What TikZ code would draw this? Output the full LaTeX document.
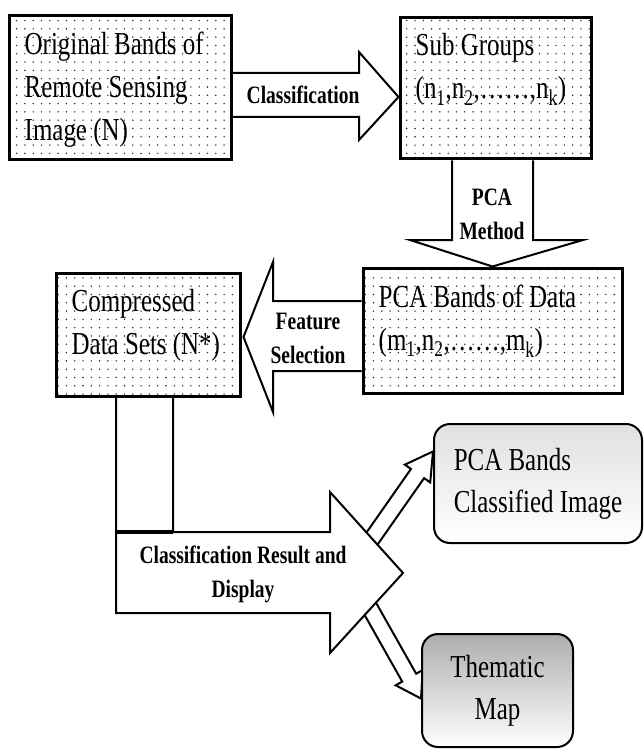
\documentclass[tikz,border=0pt]{standalone}
\usepackage{fontspec}
\setmainfont{Liberation Serif}[FakeStretch=0.78]
\usetikzlibrary{calc,patterns.meta,backgrounds}

\tikzset{
  bandbox/.style={draw, line width=3pt, pattern={Dots[distance=8.3pt,radius=0.8pt]}, pattern color=black!85, inner sep=0pt},
  boxtext/.style={anchor=north west, inner sep=0pt, align=left, font=\fontsize{32}{43}\selectfont},
  blockarrow/.style={draw, line width=2pt, fill=white, line join=miter},
  arrowtext/.style={align=center, inner sep=0pt, font=\fontsize{25}{34}\selectfont\bfseries},
  resultbox/.style={draw, line width=2pt, rounded corners=16pt, font=\fontsize{32}{42}\selectfont}
}

\begin{document}
\begin{tikzpicture}[x=1pt,y=-1pt]
        \useasboundingbox (0,0) rectangle (643,751);
        % dotted boxes
        \node[bandbox, minimum width=222pt, minimum height=144pt] (orig) at (120,88) {};
        \node[bandbox, minimum width=191pt, minimum height=141pt] (sub) at (495.5,88.5) {};
        \node[bandbox, minimum width=259pt, minimum height=125pt] (pcadata) at (492.5,330.5) {};
        \node[bandbox, minimum width=184pt, minimum height=123pt] (comp) at (148,334.5) {};
        \node[boxtext] (orig-txt) at ($(orig.north west)+(17,17)$) {Original Bands of\\Remote Sensing\\Image (N)};
        \node[boxtext] (sub-txt) at ($(sub.north west)+(17,17)$) {Sub Groups\\(n\textsubscript{1},n\textsubscript{2},……,n\textsubscript{k})};
        \node[boxtext] (pcadata-txt) at ($(pcadata.north west)+(17,18)$) {PCA Bands of Data\\(m\textsubscript{1},n\textsubscript{2},……,m\textsubscript{k})};
        \node[boxtext] (comp-txt) at ($(comp.north west)+(17,18)$) {Compressed\\Data Sets (N*)};
        % result boxes
        \node[resultbox, top color=black!12, bottom color=white, minimum width=208pt, minimum height=119pt, align=left] (pcaimg) at (538,483.5) {PCA Bands\\Classified Image};
        \node[resultbox, top color=black!32, bottom color=white, minimum width=151pt, minimum height=113pt, align=center] (thematic) at (497.5,690.5) {Thematic\\Map};
        % small arrows
        \coordinate (t1) at ($(pcaimg.north west)!0.235!(pcaimg.south west)$);
        \coordinate (s1) at (364,550);
        \coordinate (b1) at ($(t1)!27pt!(s1)$);
        \coordinate (t2) at ($(thematic.north west)!0.57!(thematic.south west)$);
        \coordinate (s2) at (367,603);
        \coordinate (b2) at ($(t2)!24pt!(s2)$);
        \begin{scope}[on background layer]
        \foreach \s/\t/\b in {s1/t1/b1, s2/t2/b2}
          \draw[blockarrow] ($(\s)!8pt!90:(\t)$) -- ($(\b)!8pt!90:(\t)$) -- ($(\b)!15.5pt!90:(\t)$) -- (\t)
            -- ($(\b)!15.5pt!-90:(\t)$) -- ($(\b)!8pt!-90:(\t)$) -- ($(\s)!8pt!-90:(\t)$) -- cycle;
        % block arrows
        \draw[blockarrow] ($(orig.east)+(0,-15)$) -- (359,73) -- (359,52) -- ($(sub.west)+(0,8.5)$)
          -- (359,140) -- (359,117) -- ($(orig.east)+(0,29)$);
        \draw[blockarrow] ($(sub.south)+(-43.5,0)$) -- (452,240) -- (410,240) -- (pcadata.north)
          -- (583,240) -- (533,240) -- ($(sub.south)+(37.5,0)$);
        \draw[blockarrow] ($(pcadata.west)+(0,-29.5)$) -- (273,301) -- (273,262) -- ($(comp.east)+(2,2.5)$)
          -- (273,412) -- (273,371) -- ($(pcadata.west)+(0,40.5)$);
        \draw[blockarrow] ($(comp.south)+(-32,0)$) -- (116,613) -- (330,613) -- (330,653) -- (403,573)
          -- (330,492) -- (330,532) -- (173,532) -- ($(comp.south)+(25,0)$);
        \draw[line width=3.5pt] (116,532) -- (173,532);
        \end{scope}
        % arrow labels
        \node[arrowtext] (class-lbl) at (303,95) {Classification};
        \node[arrowtext] (pca-lbl) at (492,214.5) {PCA\\Method};
        \node[arrowtext] (feat-lbl) at (308,338.5) {Feature\\Selection};
        \node[arrowtext] (result-lbl) at (243,574) {Classification Result and\\Display};
\end{tikzpicture}
\end{document}
